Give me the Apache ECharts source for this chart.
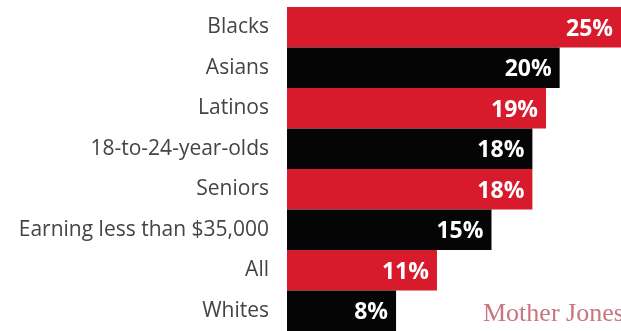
<!DOCTYPE html>
<html>
<head>
<meta charset="utf-8">
<script src="https://cdn.jsdelivr.net/npm/echarts@6/dist/echarts.min.js"></script>
<style>
html,body{margin:0;padding:0;background:#fff;}
#main{width:621px;height:331px;}
</style>
</head>
<body>
<div id="main"></div>
<script>
var groups=['Blacks','Asians','Latinos','18-to-24-year-olds','Seniors','Earning less than $35,000','All','Whites'];
var shares=[25,20,19,18,18,15,11,8];
var barColors=['#d81b2c','#050505'];

var mychart=echarts.init(document.getElementById('main'));
var option={
	backgroundColor:'#fff',
	animation:false,
	grid:{left:287,top:7,height:328,width:334},
	xAxis:{
		type:'value',
		min:0,
		max:24.5,//右侧被裁掉
		show:false
	},
	yAxis:{
		type:'category',
		data:groups,
		inverse:true,
		axisLine:{show:false},
		axisTick:{show:false},
		axisLabel:{
			margin:18,
			padding:[4,0,0,0],
			fontFamily:'Open Sans',
			fontSize:21,
			color:'#444'
		}
	},
	series:[{
		type:'bar',
		barCategoryGap:0,
		data:shares.map(function(v,i){
			return {value:v,itemStyle:{color:barColors[i%2]}};
		}),
		label:{
			show:true,
			position:'insideRight',
			distance:8,
			offset:[0,2],
			formatter:'{c}%',
			color:'#fff',
			fontFamily:'Open Sans',
			fontWeight:'bold',
			fontSize:23
		}
	}],
	graphic:[{
		type:'text',
		left:483,
		top:301,
		style:{
			text:'Mother Jones',
			fontFamily:'Liberation Serif',
			fontSize:26,
			fill:'#c97580'
		}
	}]
};
mychart.setOption(option);
</script>
</body>
</html>
